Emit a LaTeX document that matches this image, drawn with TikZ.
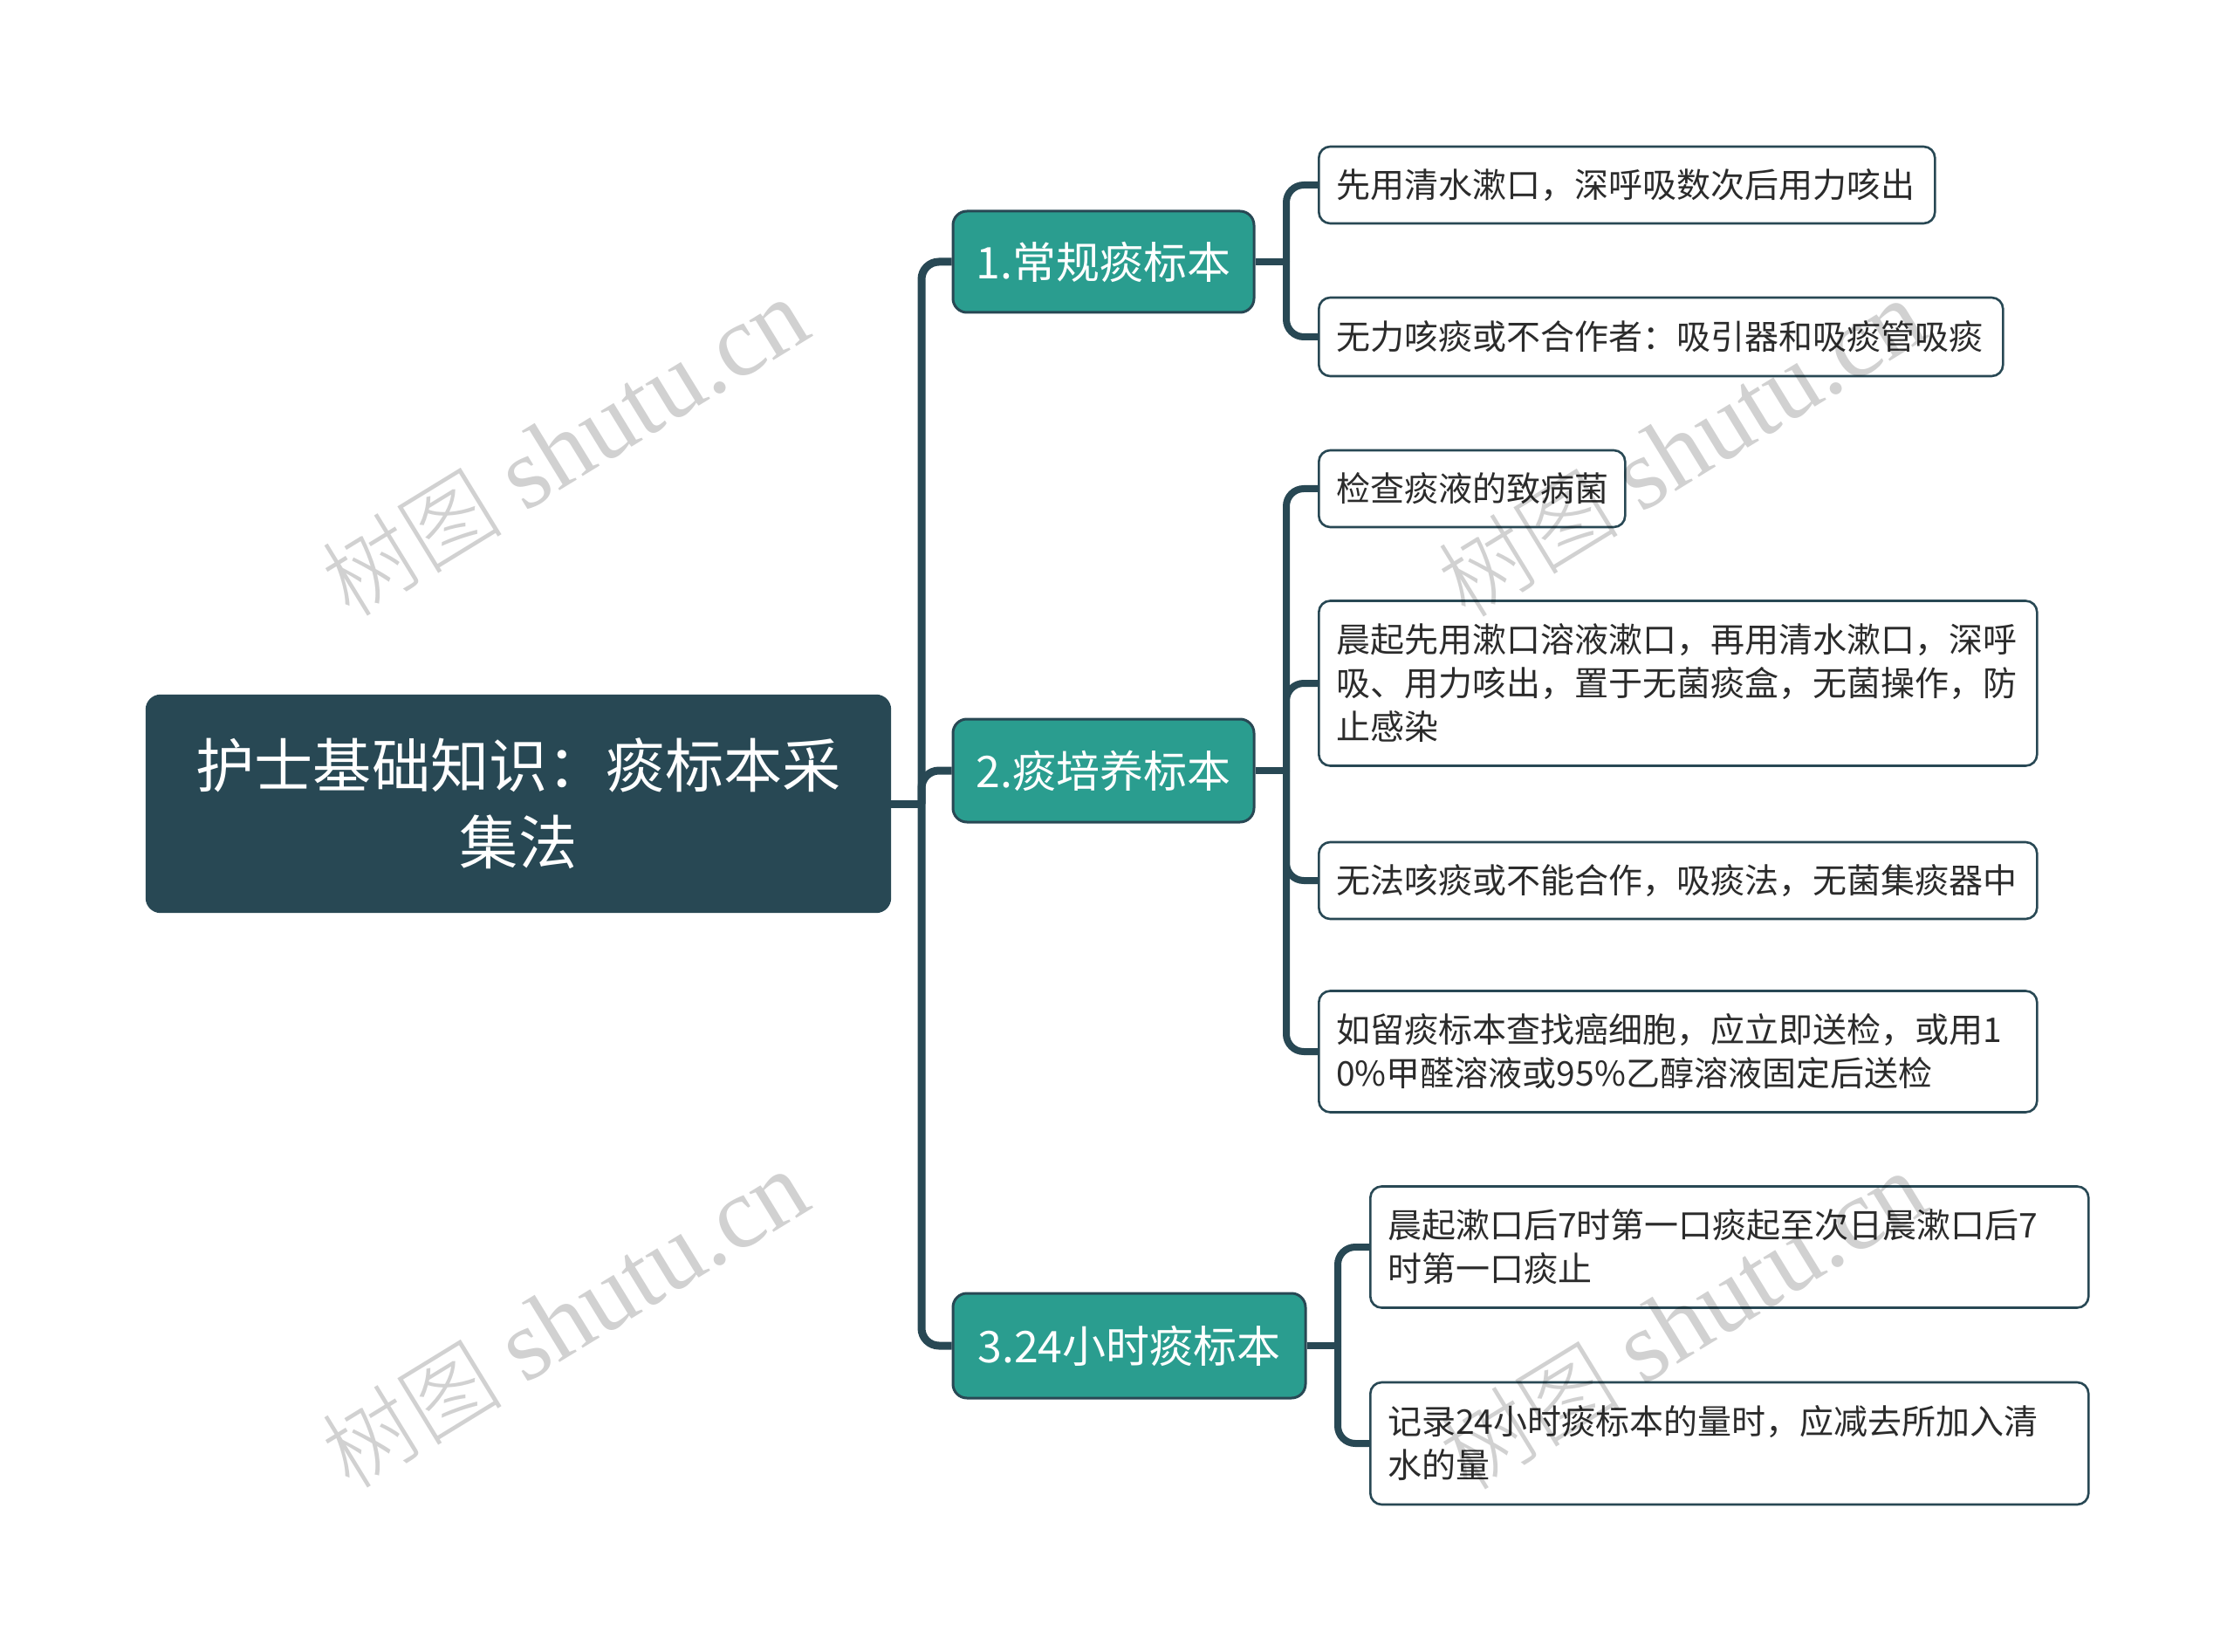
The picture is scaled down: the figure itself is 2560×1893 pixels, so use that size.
\documentclass[tikz,border=0pt]{standalone}
\usepackage{fontspec}
\setmainfont{Noto Sans CJK SC}
\newfontfamily\wmcjk{Noto Sans CJK SC Light}
\newfontfamily\wmlat{Liberation Serif}
\definecolor{dk}{HTML}{284854}
\definecolor{tl}{HTML}{2A9D8F}
\definecolor{tx}{HTML}{2B2B2B}
\begin{document}
\begin{tikzpicture}[x=0.5pt,y=-0.5pt,
  rootbox/.style={draw=dk,fill=dk,line width=1.2pt,rounded corners=8pt,text=white,align=center,
    font=\fontsize{33.6}{44}\selectfont,inner sep=0pt},
  branchbox/.style={draw=dk,fill=tl,line width=1.5pt,rounded corners=8pt,text=white,align=center,
    font=\fontsize{25}{30}\selectfont,inner sep=0pt},
  leafbox/.style={draw=dk,fill=white,line width=1.3pt,rounded corners=6.5pt,text=tx,align=left,
    font=\fontsize{19.5}{25}\selectfont,inner xsep=10pt,inner ysep=0pt,anchor=west},
  conn/.style={draw=dk,line width=4pt,rounded corners=10pt},
  wmark/.style={text=black,opacity=0.18,rotate=31.5,inner sep=0pt}
]
\useasboundingbox[fill=white] (0,0) rectangle (2560,1893);

% root and branches
\node[rootbox,minimum width=426pt,minimum height=124pt] (root) at (594,921) {护士基础知识：痰标本采\\集法};
\node[branchbox,minimum width=172.5pt,minimum height=58pt] (b1) at (1264.5,300) {1.常规痰标本};
\node[branchbox,minimum width=172.5pt,minimum height=59pt] (b2) at (1264.5,883) {2.痰培养标本};
\node[branchbox,minimum width=202pt,minimum height=60pt] (b3) at (1294,1542) {3.24小时痰标本};

% leaves
\node[leafbox,minimum width=353pt,text width=333pt,minimum height=44pt] (l1a) at (1510,212) {先用清水漱口，深呼吸数次后用力咳出};
\node[leafbox,minimum width=392pt,text width=372pt,minimum height=45pt] (l1b) at (1510,386) {无力咳痰或不合作者：吸引器和吸痰管吸痰};
\node[leafbox,minimum width=175.5pt,text width=155.5pt,minimum height=44pt] (l2a) at (1510,560) {检查痰液的致病菌};
\node[leafbox,minimum width=411.5pt,text width=391.5pt,minimum height=94.5pt] (l2b) at (1510,783) {晨起先用漱口溶液漱口，再用清水漱口，深呼\\吸、用力咳出，置于无菌痰盒，无菌操作，防\\止感染};
\node[leafbox,minimum width=411.5pt,text width=391.5pt,minimum height=44pt] (l2c) at (1510,1009) {无法咳痰或不能合作，吸痰法，无菌集痰器中};
\node[leafbox,minimum width=411.5pt,text width=391.5pt,minimum height=69.5pt] (l2d) at (1510,1205) {如留痰标本查找癌细胞，应立即送检，或用1\\0\%甲醛溶液或95\%乙醇溶液固定后送检};
\node[leafbox,minimum width=411.5pt,text width=391.5pt,minimum height=69.5pt] (l3a) at (1569,1429) {晨起漱口后7时第一口痰起至次日晨漱口后7\\时第一口痰止};
\node[leafbox,minimum width=411.5pt,text width=391.5pt,minimum height=70pt] (l3b) at (1569,1654) {记录24小时痰标本的量时，应减去所加入清\\水的量};

% junction coordinates
\coordinate (j0) at (1056,921);
\coordinate (j1) at (1474,300);
\coordinate (j2) at (1474,883);
\coordinate (j3) at (1533,1542);

% connectors
\draw[conn,line width=4.5pt] (root.east) -- (j0);
\draw[conn,line width=4.5pt] (j0) |- (b1.west);
\draw[conn,line width=4.5pt] (j0) |- (b2.west);
\draw[conn,line width=4.5pt] (j0) |- (b3.west);
\draw[conn] (b1.east) -- (j1);
\draw[conn] (j1) |- (l1a.west);
\draw[conn] (j1) |- (l1b.west);
\draw[conn] (b2.east) -- (j2);
\draw[conn] (j2) |- (l2a.west);
\draw[conn] (j2) |- (l2b.west);
\draw[conn] (j2) |- (l2c.west);
\draw[conn] (j2) |- (l2d.west);
\draw[conn] (b3.east) -- (j3);
\draw[conn] (j3) |- (l3a.west);
\draw[conn] (j3) |- (l3b.west);

% watermarks
\node[wmark] (w1) at (647,513) {\fontsize{58}{58}\selectfont{\wmcjk\fontsize{52}{58}\selectfont 树图} \wmlat shutu.cn};
\node[wmark] (w2) at (1926,514) {\fontsize{58}{58}\selectfont{\wmcjk\fontsize{52}{58}\selectfont 树图} \wmlat shutu.cn};
\node[wmark] (w3) at (647,1512) {\fontsize{58}{58}\selectfont{\wmcjk\fontsize{52}{58}\selectfont 树图} \wmlat shutu.cn};
\node[wmark] (w4) at (1928,1514) {\fontsize{58}{58}\selectfont{\wmcjk\fontsize{52}{58}\selectfont 树图} \wmlat shutu.cn};
\end{tikzpicture}
\end{document}
